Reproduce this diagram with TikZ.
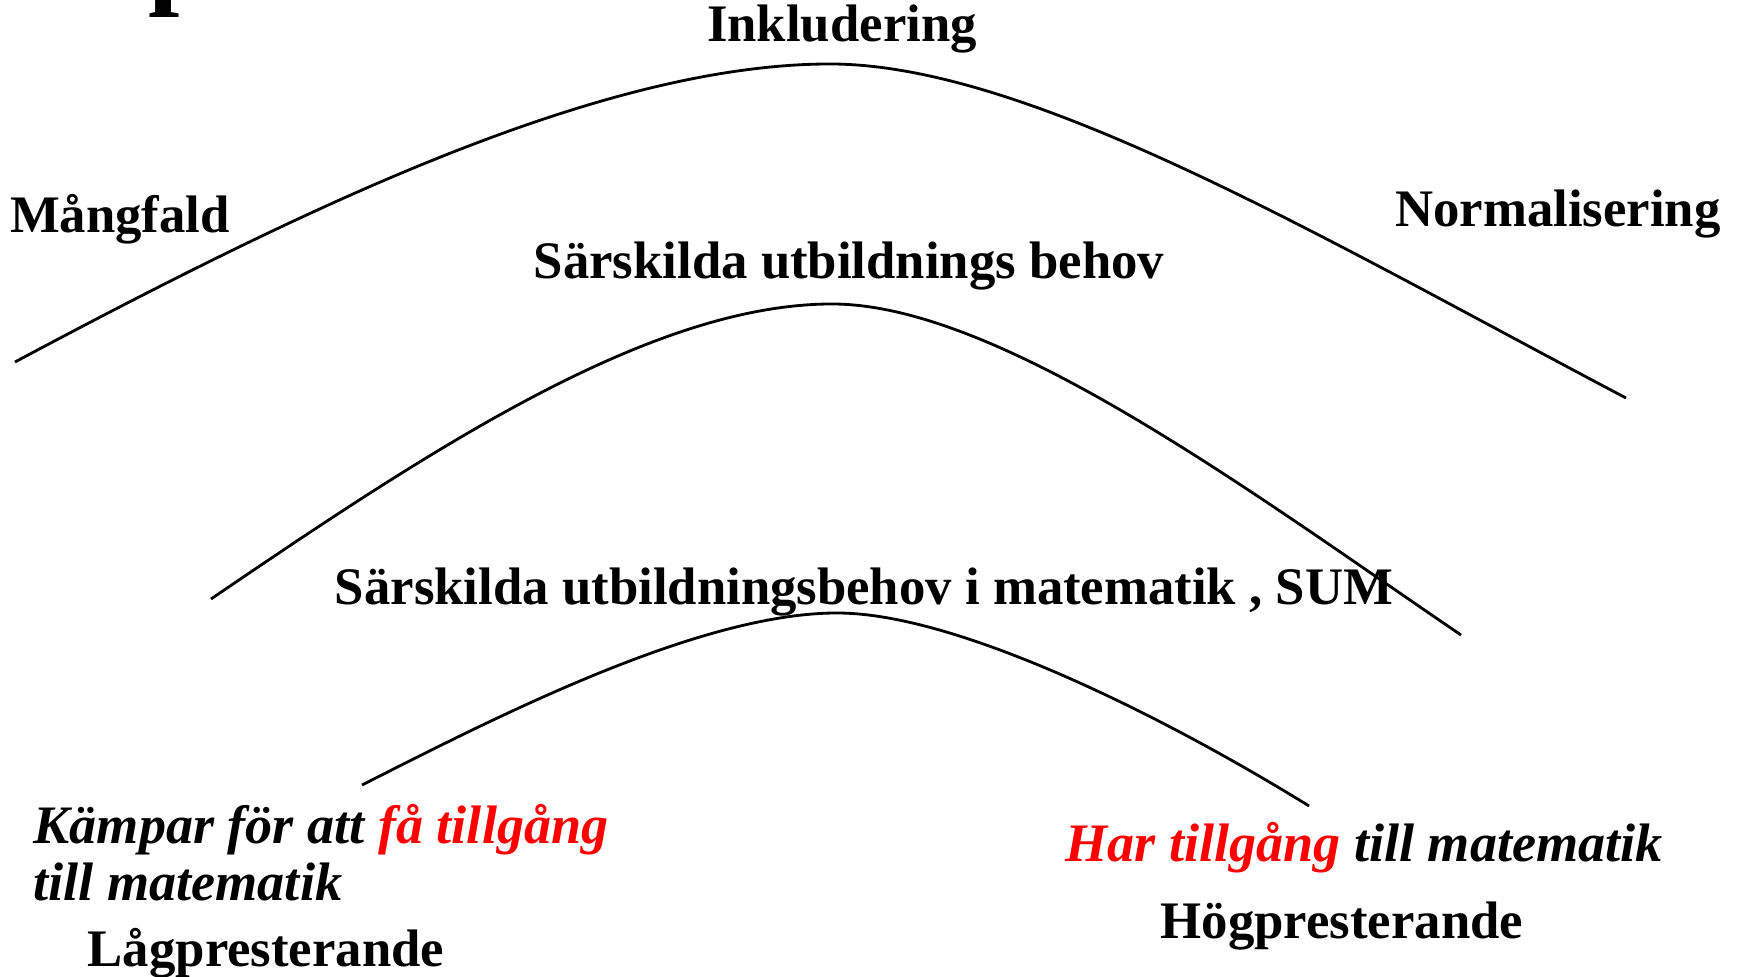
\documentclass[tikz,border=0pt]{standalone}
\usepackage{fontspec}
\setmainfont{Liberation Serif}

\begin{document}
\begin{tikzpicture}[x=0.01cm, y=-0.01cm,
    lbl/.style={font=\fontsize{15}{16}\selectfont\bfseries, inner sep=0pt},
    ilbl/.style={font=\fontsize{15.4}{16}\selectfont\bfseries\itshape, inner sep=0pt},
    curve/.style={line width=0.8pt}]
    \useasboundingbox (0,0) rectangle (1737,977);
    % title, cut off at the top
    \node[inner sep=0pt, anchor=base west, font=\fontsize{32}{34}\selectfont\bfseries] (title) at (148,-6) {p};
    \node[lbl, anchor=base] (inkl) at (842,42) {Inkludering};
    \node[lbl, anchor=base] (mang) at (120,233) {Mångfald};
    \node[lbl, anchor=base] (norm) at (1558,227) {Normalisering};
    \node[lbl, anchor=base] (sub) at (849,279) {Särskilda utbildnings behov};
    \node[lbl, anchor=base] (sum) at (864,605) {Särskilda utbildningsbehov i matematik , SUM};
    \node[ilbl, anchor=base west] (kamp) at (33,844) {Kämpar för att \textcolor{red}{få tillgång}};
    \node[ilbl, anchor=base west] (kampb) at (33,900) {till matematik};
    \node[lbl, anchor=base] (lag) at (266,966) {Lågpresterande};
    \node[ilbl, anchor=base] (har) at (1364,862) {\textcolor{red}{Har tillgång} till matematik};
    \node[lbl, anchor=base] (hog) at (1342,939) {Högpresterande};
    \draw[curve] (15,362) .. controls (300,210) and (600,64) .. (830,64)
        .. controls (1030,64) and (1326,240) .. (1626,398);
    \draw[curve] (211,599) .. controls (430,450) and (650,304) .. (832,304)
        .. controls (1000,304) and (1255,495) .. (1461,635);
    \draw[curve] (362,785) .. controls (500,715) and (700,613) .. (837,613)
        .. controls (960,613) and (1170,720) .. (1309,806);
    % \draw[help lines] (0,0) grid (1737,977);
\end{tikzpicture}
\end{document}
